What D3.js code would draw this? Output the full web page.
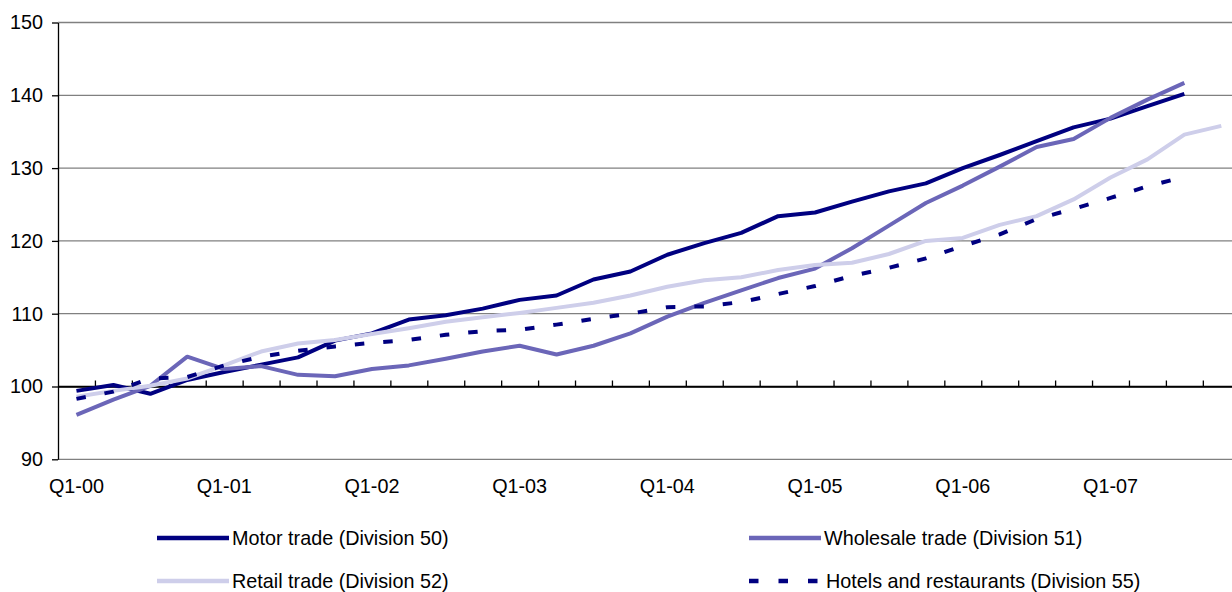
<!DOCTYPE html>
<html>
<head>
<meta charset="utf-8">
<script src="https://cdn.jsdelivr.net/npm/d3@7"></script>
<style>
	body { margin: 0; background: #fff; }
	svg { display: block; font-family: "Liberation Sans", Arial, sans-serif; }
</style>
</head>
<body>
<div id="chart"></div>
<script>
// quarters Q1-00 .. Q4-07
const quarters = [
	"Q1-00", "Q2-00", "Q3-00", "Q4-00", "Q1-01", "Q2-01", "Q3-01", "Q4-01",
	"Q1-02", "Q2-02", "Q3-02", "Q4-02", "Q1-03", "Q2-03", "Q3-03", "Q4-03",
	"Q1-04", "Q2-04", "Q3-04", "Q4-04", "Q1-05", "Q2-05", "Q3-05", "Q4-05",
	"Q1-06", "Q2-06", "Q3-06", "Q4-06", "Q1-07", "Q2-07", "Q3-07", "Q4-07",
];
const yTicks = [90, 100, 110, 120, 130, 140, 150];

// series values (index)
const motor = [99.4, 100.2, 99.0, 100.9, 102.0, 103.0, 104.0, 106.3, 107.3, 109.2, 109.8, 110.7, 111.9, 112.5, 114.7, 115.8,
	118.1, 119.7, 121.1, 123.4, 123.9, 125.4, 126.8, 127.9, 130.0, 131.8, 133.7, 135.6, 136.8, 138.5, 140.2];
const wholesale = [96.1, 98.2, 100.1, 104.1, 102.4, 102.8, 101.6, 101.4, 102.4, 102.9, 103.8, 104.8, 105.6, 104.4, 105.6, 107.3,
	109.6, 111.5, 113.2, 114.9, 116.2, 119.0, 122.1, 125.2, 127.6, 130.2, 132.9, 134.0, 136.9, 139.4, 141.7];
const retail = [98.6, 99.4, 100.1, 101.1, 102.9, 104.8, 105.9, 106.4, 107.2, 108.0, 108.9, 109.5, 110.1, 110.8, 111.5, 112.5,
	113.7, 114.6, 115.0, 116.0, 116.7, 117.0, 118.2, 120.0, 120.4, 122.2, 123.4, 125.7, 128.7, 131.2, 134.6, 135.8];
const hotels = [98.3, 99.3, 101.1, 101.3, 102.9, 104.1, 104.9, 105.5, 106.0, 106.4, 107.1, 107.6, 107.8, 108.5, 109.3, 110.0,
	110.9, 111.0, 111.6, 112.7, 113.8, 115.2, 116.3, 117.6, 119.3, 120.9, 123.0, 124.4, 125.9, 127.5, 128.8];

const series = [
	{ name: "Motor trade (Division 50)", values: motor, color: "#000080", dash: null },
	{ name: "Wholesale trade (Division 51)", values: wholesale, color: "#6b66b8", dash: null },
	{ name: "Retail trade (Division 52)", values: retail, color: "#ceceea", dash: null },
	{ name: "Hotels and restaurants (Division 55)", values: hotels, color: "#000080", dash: "9.5,19" },
];

const width = 1232;
const height = 592;
const left = 58;
const step = 36.93;
const fontSize = "19.8px";

const svg = d3
	.select("#chart")
	.append("svg")
	.attr("width", width)
	.attr("height", height);

const x = d3
	.scaleBand()
	.domain(quarters)
	.range([left, left + step * quarters.length])
	.paddingInner(0)
	.paddingOuter(0);

// edges of the categories, for the tick marks
const xEdge = d3.scaleLinear().domain([0, quarters.length]).range(x.range());

const y = d3.scaleLinear().domain([90, 150]).range([459.3, 22.5]);

// gridlines
svg.append("g")
	.selectAll("line")
	.data(yTicks)
	.enter()
	.append("line")
	.attr("x1", left)
	.attr("x2", width)
	.attr("y1", (d) => y(d))
	.attr("y2", (d) => y(d))
	.attr("stroke", (d) => (d === 100 ? "#000" : "#808080"))
	.attr("stroke-width", 1.3);

// y axis
const yAxis = svg
	.append("g")
	.attr("transform", `translate(${left},0)`)
	.call(d3.axisLeft(y).tickValues(yTicks).tickSize(6).tickPadding(9).tickSizeOuter(0));
yAxis.select(".domain").attr("stroke", "#000").attr("stroke-width", 1.3);
yAxis.selectAll(".tick line").attr("stroke", "#000").attr("stroke-width", 1.3);
yAxis.selectAll("text").attr("font-size", fontSize).attr("fill", "#000").attr("font-family", "Liberation Sans, Arial, sans-serif");

// x axis line at 100 with tick marks pointing up
const xAxis = svg
	.append("g")
	.attr("transform", `translate(0,${y(100)})`)
	.call(
		d3.axisTop(xEdge)
			.tickValues(d3.range(1, quarters.length))
			.tickSize(6)
			.tickSizeOuter(0)
			.tickFormat("")
	);
xAxis.select(".domain").attr("stroke", "#000").attr("stroke-width", 1.3);
xAxis.selectAll(".tick line").attr("stroke", "#000").attr("stroke-width", 1.3);

// category labels below the plot
const xLabels = svg
	.append("g")
	.attr("transform", "translate(0,479)")
	.call(
		d3.axisBottom(x)
			.tickValues(quarters.filter((d) => d.startsWith("Q1")))
			.tickSize(0)
			.tickPadding(0)
	);
xLabels.select(".domain").remove();
xLabels.selectAll("text").attr("font-size", fontSize).attr("fill", "#000").attr("font-family", "Liberation Sans, Arial, sans-serif");

const line = d3
	.line()
	.x((d, i) => x(quarters[i]) + x.bandwidth() / 2)
	.y((d) => y(d));

svg.append("g")
	.selectAll("path")
	.data(series)
	.enter()
	.append("path")
	.attr("d", (d) => line(d.values))
	.attr("fill", "none")
	.attr("stroke", (d) => d.color)
	.attr("stroke-width", 4)
	.attr("stroke-linejoin", "round")
	.attr("stroke-dasharray", (d) => d.dash);

// legend, two columns by two rows
const legend = svg
	.append("g")
	.selectAll("g")
	.data(series)
	.enter()
	.append("g")
	.attr("transform", (d, i) => {
		const xOffset = (i % 2) * 592 + 157;
		const yOffset = Math.floor(i / 2) * 43 + 538;
		return `translate(${xOffset}, ${yOffset})`;
	});

legend
	.append("line")
	.attr("x1", 0)
	.attr("x2", 72)
	.attr("stroke", (d) => d.color)
	.attr("stroke-width", 4.5)
	.attr("stroke-dasharray", (d) => (d.dash ? "9.5,20" : null));

legend
	.append("text")
	.attr("x", (d) => (d.dash ? 77 : 75))
	.attr("y", 7)
	.attr("font-size", fontSize)
	.attr("fill", "#000")
	.text((d) => d.name);
</script>
</body>
</html>
